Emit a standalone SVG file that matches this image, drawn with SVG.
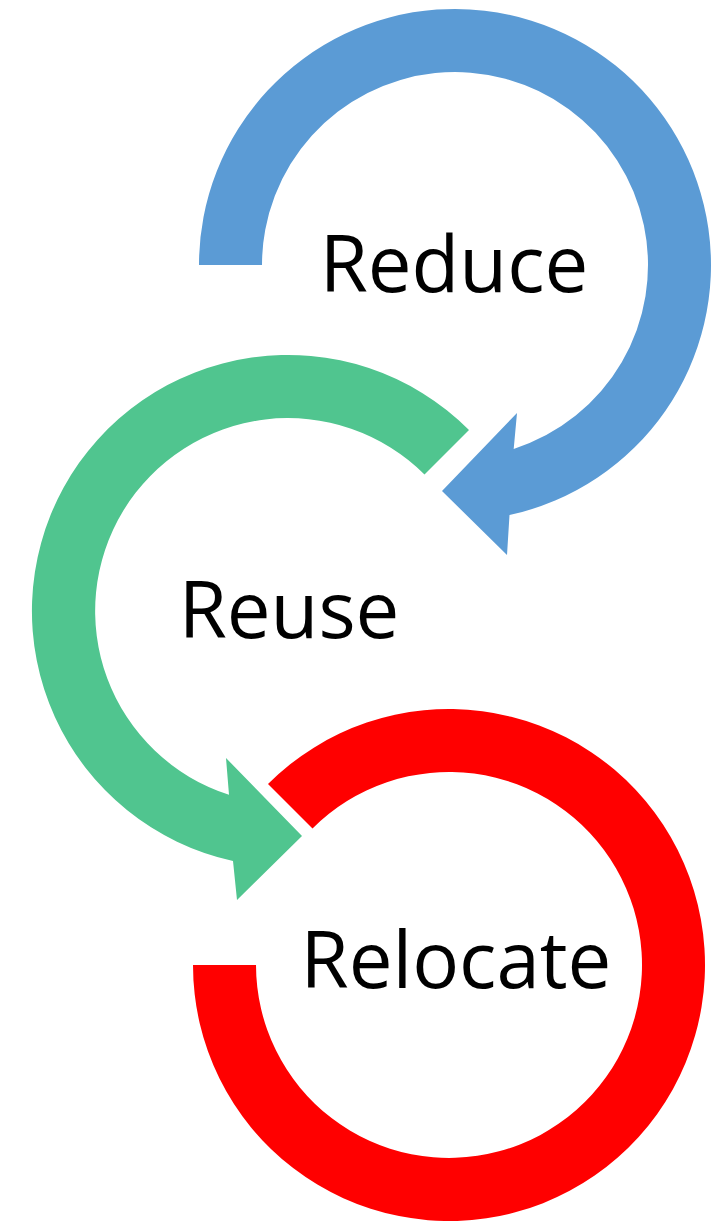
<svg xmlns="http://www.w3.org/2000/svg" width="728" height="1221" viewBox="0 0 728 1221">
<style>
.lbl{font-family:"Open Sans","Liberation Sans",sans-serif;font-size:78px;fill:#000;text-anchor:middle}
</style>
<rect width="728" height="1221" fill="#fff"/>
<g id="connectors">
<path id="blue-arrow" fill="#5B9BD5" d="M199,265 A256,256 0 1 1 509.5,515.1 L507,555 L442,491 L517,413 L513.7,448.9 A193,193 0 1 0 262,265 Z"/>
<path id="green-arrow" fill="#50C58F" d="M469,430 A256,256 0 1 0 233,861 L237,900 L302,836 L226,758 L229,794.8 A193,193 0 1 1 424.5,474.5 Z"/>
<path id="red-arc" fill="#FF0000" d="M193,965 A256,256 0 1 0 268,784 L312.5,828.5 A193,193 0 1 1 256,965 Z"/>
</g>
<g id="reduce"><text class="lbl" x="454" y="292">Reduce</text></g>
<g id="reuse"><text class="lbl" x="289" y="638">Reuse</text></g>
<g id="relocate"><text class="lbl" x="456" y="988">Relocate</text></g>
</svg>
